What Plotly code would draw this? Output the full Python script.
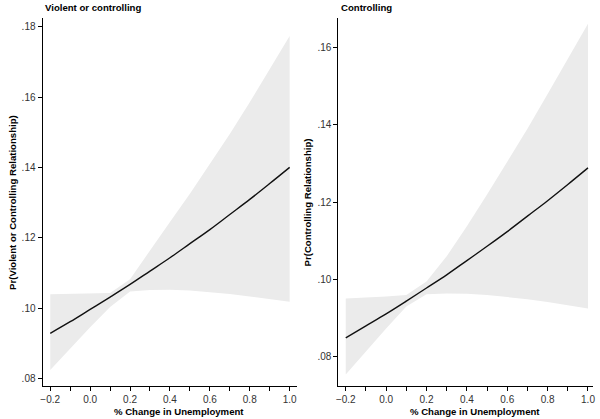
import plotly.graph_objects as go

# ---- data ----
x_vals = [-0.2, -0.1, 0.0, 0.1, 0.2, 0.3, 0.4, 0.5, 0.6, 0.7, 0.8, 0.9, 1.0]

vc_pred  = [0.0928, 0.0961, 0.0996, 0.1031, 0.1067, 0.1105, 0.1143, 0.1183, 0.1223, 0.1266, 0.1309, 0.1354, 0.1400]
vc_lower = [0.0824, 0.0885, 0.0945, 0.1003, 0.1047, 0.1051, 0.1052, 0.1050, 0.1046, 0.1040, 0.1033, 0.1026, 0.1018]
vc_upper = [0.1039, 0.1040, 0.1041, 0.1043, 0.1082, 0.1165, 0.1245, 0.1325, 0.1410, 0.1495, 0.1585, 0.1678, 0.1774]

c_pred  = [0.0849, 0.0880, 0.0911, 0.0944, 0.0978, 0.1012, 0.1049, 0.1086, 0.1124, 0.1164, 0.1204, 0.1246, 0.1289]
c_lower = [0.0754, 0.0814, 0.0873, 0.0930, 0.0962, 0.0964, 0.0963, 0.0960, 0.0955, 0.0949, 0.0942, 0.0934, 0.0925]
c_upper = [0.0951, 0.0953, 0.0956, 0.0960, 0.0995, 0.1060, 0.1138, 0.1220, 0.1305, 0.1390, 0.1480, 0.1570, 0.1662]

x_tickvals = [-0.2, 0.0, 0.2, 0.4, 0.6, 0.8, 1.0]
x_ticktext = ["\u22120.2", "0.0", "0.2", "0.4", "0.6", "0.8", "1.0"]
x_minorvals = [-0.1, 0.1, 0.3, 0.5, 0.7, 0.9]
y1_tickvals = [0.08, 0.10, 0.12, 0.14, 0.16, 0.18]
y1_ticktext = [".08", ".10", ".12", ".14", ".16", ".18"]
y2_tickvals = [0.08, 0.10, 0.12, 0.14, 0.16]
y2_ticktext = [".08", ".10", ".12", ".14", ".16"]

panel_titles = ["Violent or controlling", "Controlling"]
x_title = "% Change in Unemployment"
y_titles = ["Pr(Violent or Controlling Relationship)", "Pr(Controlling Relationship)"]

BAND = "#ebebeb"
FONT = "Liberation Sans, Arial, Helvetica, sans-serif"
W, H = 600, 419

fig = go.Figure()

def add_panel(xa, ya, lower, upper, pred):
    fig.add_trace(go.Scatter(x=x_vals, y=lower, mode="lines", line=dict(width=0, color=BAND),
                             xaxis=xa, yaxis=ya, showlegend=False, hoverinfo="skip"))
    fig.add_trace(go.Scatter(x=x_vals, y=upper, mode="lines", line=dict(width=0, color=BAND),
                             fill="tonexty", fillcolor=BAND,
                             xaxis=xa, yaxis=ya, showlegend=False, hoverinfo="skip"))
    fig.add_trace(go.Scatter(x=x_vals, y=pred, mode="lines", line=dict(width=1.4, color="#111111", shape="spline"),
                             xaxis=xa, yaxis=ya, showlegend=False))

add_panel("x", "y", vc_lower, vc_upper, vc_pred)
add_panel("x2", "y2", c_lower, c_upper, c_pred)

ydom = [1 - 385.7 / H, 1 - 18 / H]
common_x = dict(showgrid=False, zeroline=False, showline=True, linecolor="#000000", linewidth=1.3,
                ticks="outside", ticklen=4, tickwidth=1, tickcolor="#000000",
                tickvals=x_tickvals, ticktext=x_ticktext,
                tickfont=dict(family=FONT, size=10, color="#333333"),
                minor=dict(tickvals=x_minorvals, ticks="outside", ticklen=4,
                           tickwidth=1, tickcolor="#000000"),
                fixedrange=True)
common_y = dict(showgrid=False, zeroline=False, showline=True, linecolor="#000000", linewidth=1.3,
                ticks="outside", ticklen=4, tickwidth=1, tickcolor="#000000",
                tickfont=dict(family=FONT, size=10, color="#333333"), fixedrange=True)

fig.update_layout(
    width=W, height=H,
    margin=dict(l=0, r=0, t=0, b=0),
    paper_bgcolor="white", plot_bgcolor="white",
    font=dict(family=FONT, size=10, color="#000000"),
    xaxis=dict(domain=[40 / W, 296.7 / W], range=[-0.238, 1.038], anchor="y", **common_x),
    yaxis=dict(domain=ydom, range=[0.0779, 0.1825], anchor="x",
               tickvals=y1_tickvals, ticktext=y1_ticktext, **common_y),
    xaxis2=dict(domain=[338.3 / W, 595 / W], range=[-0.236, 1.025], anchor="y2", **common_x),
    yaxis2=dict(domain=ydom, range=[0.0725, 0.1677], anchor="x2",
                tickvals=y2_tickvals, ticktext=y2_ticktext, **common_y),
)

bold = dict(family=FONT, size=9.6, color="#000000")
ann = [
    dict(text="<b>%s</b>" % panel_titles[0], x=40 / W, y=1 - 7 / H, xanchor="left", yanchor="middle"),
    dict(text="<b>%s</b>" % panel_titles[1], x=338.5 / W, y=1 - 7 / H, xanchor="left", yanchor="middle"),
    dict(text="<b>%s</b>" % x_title, x=177.7 / W, y=1 - 411 / H, xanchor="center", yanchor="middle"),
    dict(text="<b>%s</b>" % x_title, x=475.8 / W, y=1 - 411 / H, xanchor="center", yanchor="middle"),
    dict(text="<b>%s</b>" % y_titles[0], x=9 / W, y=1 - 202 / H, xanchor="center", yanchor="middle", textangle=-90),
    dict(text="<b>%s</b>" % y_titles[1], x=307 / W, y=1 - 202 / H, xanchor="center", yanchor="middle", textangle=-90),
]
for a in ann:
    a.update(xref="paper", yref="paper", showarrow=False, font=bold)
fig.update_layout(annotations=ann)

fig.write_html(
    "out.html",
    config={"displayModeBar": False},
    post_script="document.body.style.margin='0';document.body.style.padding='0';document.body.style.overflow='hidden';",
)
